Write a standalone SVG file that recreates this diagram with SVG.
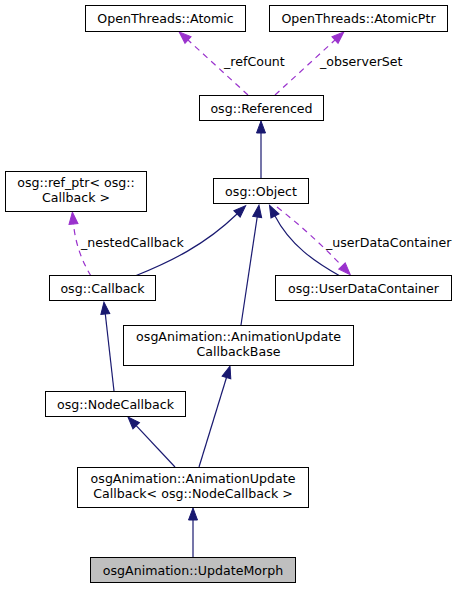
<svg xmlns="http://www.w3.org/2000/svg" width="461" height="589" viewBox="0 0 461 589">
<style>
  .box { fill: #ffffff; stroke: #000000; stroke-width: 1; }
  .cur { fill: #bfbfbf; stroke: #000000; stroke-width: 1; }
  text { font-family: "DejaVu Sans", "Liberation Sans", sans-serif; font-size: 12.6px; fill: #000000; }
  .c { text-anchor: middle; }
  .inh { fill: none; stroke: #191970; stroke-width: 1.2; }
  .use { fill: none; stroke: #9a32cd; stroke-width: 1.2; stroke-dasharray: 6,5; }
</style>
<defs>
  <marker id="aInh" markerUnits="userSpaceOnUse" markerWidth="14" markerHeight="12" refX="0" refY="6" orient="auto" overflow="visible">
    <path d="M0,1.5 L12,6 L0,10.5 Z" fill="#191970" stroke="#191970" stroke-width="1"/>
  </marker>
  <marker id="aUse" markerUnits="userSpaceOnUse" markerWidth="14" markerHeight="12" refX="0" refY="6" orient="auto" overflow="visible">
    <path d="M0,1.5 L12,6 L0,10.5 Z" fill="#9a32cd" stroke="#9a32cd" stroke-width="1"/>
  </marker>
</defs>

<g id="connectors">
  <path class="use" d="M248,95 L188,40" marker-end="url(#aUse)"/>
  <path class="use" d="M275,95 L335,40" marker-end="url(#aUse)"/>
  <path class="inh" d="M261,178 L261,133" marker-end="url(#aInh)"/>
  <path class="inh" d="M135,276 C170,262 205,245 237,214" marker-end="url(#aInh)"/>
  <path class="use" d="M91,276 C80,258 75,240 73.5,224" marker-end="url(#aUse)"/>
  <path class="inh" d="M241,325 L257.2,217" marker-end="url(#aInh)"/>
  <path class="inh" d="M340,276 C315,262 290,245 275,216" marker-end="url(#aInh)"/>
  <path class="use" d="M277,207 C300,225 320,243 342,266" marker-end="url(#aUse)"/>
  <path class="inh" d="M114,391 L105.3,314" marker-end="url(#aInh)"/>
  <path class="inh" d="M175,467 L136.2,425.7" marker-end="url(#aInh)"/>
  <path class="inh" d="M199,467 L226.5,377.5" marker-end="url(#aInh)"/>
  <path class="inh" d="M193,558 L193,520" marker-end="url(#aInh)"/>
  <text x="224" y="66">_refCount</text>
  <text x="320" y="66">_observerSet</text>
  <text x="81" y="247">_nestedCallback</text>
  <text x="326" y="247">_userDataContainer</text>
</g>

<g id="node-atomic">
  <rect class="box" x="85.5" y="5.5" width="160" height="26"/>
  <text class="c" x="165.5" y="22.5">OpenThreads::Atomic</text>
</g>
<g id="node-atomicptr">
  <rect class="box" x="269.5" y="5.5" width="178" height="26"/>
  <text class="c" x="358.5" y="22.5">OpenThreads::AtomicPtr</text>
</g>
<g id="node-referenced">
  <rect class="box" x="199.5" y="95.5" width="124" height="25"/>
  <text class="c" x="261.5" y="112.5">osg::Referenced</text>
</g>
<g id="node-refptr">
  <rect class="box" x="5.5" y="171.5" width="141" height="40"/>
  <text class="c" x="76" y="186.5">osg::ref_ptr&lt; osg::</text>
  <text class="c" x="76" y="201.5">Callback &gt;</text>
</g>
<g id="node-object">
  <rect class="box" x="213.5" y="178.5" width="95" height="25"/>
  <text class="c" x="261" y="195.5">osg::Object</text>
</g>
<g id="node-callback">
  <rect class="box" x="49.5" y="275.5" width="106" height="25"/>
  <text class="c" x="102.5" y="292.5">osg::Callback</text>
</g>
<g id="node-userdatacontainer">
  <rect class="box" x="275.5" y="275.5" width="176" height="25"/>
  <text class="c" x="363.5" y="292.5">osg::UserDataContainer</text>
</g>
<g id="node-aucbase">
  <rect class="box" x="123.5" y="325.5" width="230" height="40"/>
  <text class="c" x="238.5" y="341">osgAnimation::AnimationUpdate</text>
  <text class="c" x="238.5" y="356">CallbackBase</text>
</g>
<g id="node-nodecallback">
  <rect class="box" x="45.5" y="391.5" width="140" height="25"/>
  <text class="c" x="115.5" y="408.5">osg::NodeCallback</text>
</g>
<g id="node-auc">
  <rect class="box" x="77.5" y="467.5" width="231" height="40"/>
  <text class="c" x="193" y="483">osgAnimation::AnimationUpdate</text>
  <text class="c" x="193" y="498">Callback&lt; osg::NodeCallback &gt;</text>
</g>
<g id="node-updatemorph">
  <rect class="cur" x="90.5" y="557.5" width="205" height="25"/>
  <text class="c" x="193" y="574.5">osgAnimation::UpdateMorph</text>
</g>
</svg>
